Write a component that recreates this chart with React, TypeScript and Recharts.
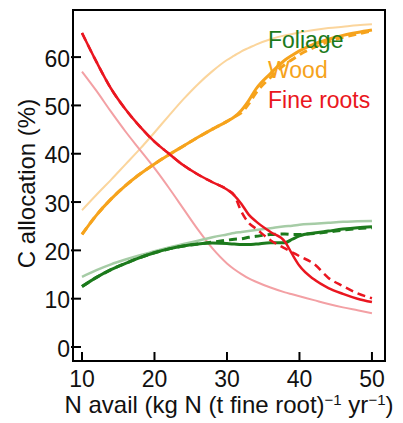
import { LineChart, Line, XAxis, YAxis, ReferenceArea } from "recharts";

// N availability grid (kg N (t fine root)^-1 yr^-1)
const N_AVAIL = [10, 12, 14, 16, 18, 20, 22, 24, 26, 28, 30, 31, 32, 33, 34, 36, 38, 39, 40, 42, 44, 46, 48, 50];

// Faded reference curves (%)
const FOLIAGE_REF = [14.5, 15.9, 17.1, 18.1, 19, 19.8, 20.6, 21.3, 22, 22.7, 23.3, 23.6, 23.8, 24, 24.2, 24.6, 25, 25.1, 25.3, 25.5, 25.7, 25.9, 26, 26.1];
const WOOD_REF = [28.3, 31.5, 34.6, 37.8, 41, 44.4, 47.9, 51.3, 54.4, 57.1, 59.4, 60.3, 61.2, 61.9, 62.6, 63.7, 64.5, 64.8, 65.1, 65.6, 66, 66.3, 66.6, 66.8];
const ROOTS_REF = [57, 53, 48.7, 44.6, 40.8, 37, 32.9, 28.6, 24.3, 20.4, 17.3, 16.1, 15.1, 14.2, 13.5, 12.3, 11.3, 10.9, 10.5, 9.7, 8.9, 8.2, 7.6, 7.0];

// Model runs, solid
const FOLIAGE = [12.5, 14.4, 16, 17.3, 18.5, 19.5, 20.3, 20.9, 21.3, 21.5, 21.4, 21.3, 21.2, 21.2, 21.3, 21.6, 21.6, 22.3, 23, 23.6, 24, 24.4, 24.7, 24.9];
const WOOD = [23.3, 27.3, 30.6, 33.4, 35.8, 37.9, 39.8, 41.6, 43.4, 45.1, 46.7, 47.6, 49, 51, 53.4, 56.6, 59.4, 60.4, 61.3, 62.7, 63.7, 64.5, 65.1, 65.6];
const ROOTS = [65, 59, 53.5, 49.2, 45.6, 42.5, 40, 37.6, 35.7, 34.1, 32.6, 31.4, 29.6, 27.4, 26, 23.8, 21.8, 19.2, 16.8, 14, 12.2, 11, 10, 9.3];

// Model runs, dashed
const FOLIAGE_DASH = [12.5, 14.4, 16, 17.3, 18.5, 19.5, 20.3, 20.9, 21.3, 21.7, 22.1, 22.3, 22.4, 22.7, 22.9, 23.3, 23.4, 23.3, 23.3, 23.5, 23.8, 24.2, 24.5, 24.7];
const WOOD_DASH = [23.3, 27.3, 30.6, 33.4, 35.8, 37.9, 39.8, 41.6, 43.4, 45.1, 46.7, 47.6, 48.5, 50.3, 52.6, 55.8, 58.5, 59.5, 60.5, 62, 63.2, 64.1, 64.8, 65.4];
const ROOTS_DASH = [65, 59, 53.5, 49.2, 45.6, 42.5, 40, 37.6, 35.7, 34.1, 32.6, 31.4, 28, 25.7, 24.5, 22.1, 20.4, 19.6, 18.8, 17.2, 14.3, 12.6, 11.1, 10.1];

const X_TICKS = [10, 20, 30, 40, 50];
const Y_TICKS = [0, 10, 20, 30, 40, 50, 60];
const X_DOMAIN: [number, number] = [8.76, 51.8];
const Y_DOMAIN: [number, number] = [-2.9, 69.75];

const GREEN = "#1c7a1c";
const ORANGE = "#f6a31c";
const RED = "#ea1620";

const data = N_AVAIL.map((n, i) => ({
  n,
  foliageRef: FOLIAGE_REF[i],
  woodRef: WOOD_REF[i],
  rootsRef: ROOTS_REF[i],
  foliage: FOLIAGE[i],
  wood: WOOD[i],
  roots: ROOTS[i],
  foliageDash: FOLIAGE_DASH[i],
  woodDash: WOOD_DASH[i],
  rootsDash: ROOTS_DASH[i],
}));

const SERIES = [
  { key: "woodRef", color: "#fbd59c", width: 2, dash: undefined },
  { key: "rootsRef", color: "#f3a0a4", width: 2, dash: undefined },
  { key: "foliageRef", color: "#a6cca6", width: 2.5, dash: undefined },
  { key: "wood", color: ORANGE, width: 3, dash: undefined },
  { key: "woodDash", color: ORANGE, width: 3, dash: "8 5" },
  { key: "foliage", color: GREEN, width: 3, dash: undefined },
  { key: "foliageDash", color: GREEN, width: 3, dash: "8 5" },
  { key: "roots", color: RED, width: 2.5, dash: undefined },
  { key: "rootsDash", color: RED, width: 2.5, dash: "8 5" },
];

const LEGEND = [
  { label: "Foliage", color: GREEN },
  { label: "Wood", color: ORANGE },
  { label: "Fine roots", color: RED },
];

const FONT = "'Liberation Sans', Arial, sans-serif";

// ticks point into the plot, labels sit outside
function YTick({ x, y, payload }: any) {
  return (
    <g>
      <line x1={x} x2={x + 10} y1={y} y2={y} stroke="#000" strokeWidth={2} />
      <text x={x - 1} y={y} dy="0.42em" textAnchor="end" fontSize={23} fill="#111" fontFamily={FONT}>
        {payload.value}
      </text>
    </g>
  );
}

function XTick({ x, y, payload }: any) {
  return (
    <g>
      <line x1={x} x2={x} y1={y - 10} y2={y - 19} stroke="#000" strokeWidth={2} />
      <text x={x} y={y} dy="0.71em" textAnchor="middle" fontSize={23} fill="#111" fontFamily={FONT}>
        {payload.value}
      </text>
    </g>
  );
}

function XTitle({ viewBox }: any) {
  const cx = viewBox.x + viewBox.width / 2;
  return (
    <text x={cx} y={viewBox.y + 52} textAnchor="middle" fontSize={24} fill="#111" fontFamily={FONT}>
      N avail (kg N (t fine root)
      <tspan dy={-8} fontSize={15}>−1</tspan>
      <tspan dy={8}> yr</tspan>
      <tspan dy={-8} fontSize={15}>−1</tspan>
      <tspan dy={8}>)</tspan>
    </text>
  );
}

function YTitle({ viewBox }: any) {
  const bx = viewBox.x + 35;
  const cy = viewBox.y + viewBox.height / 2 - 2;
  return (
    <text
      x={bx}
      y={cy}
      transform={`rotate(-90, ${bx}, ${cy})`}
      textAnchor="middle"
      fontSize={24}
      fill="#111"
      fontFamily={FONT}
    >
      C allocation (%)
    </text>
  );
}

export default function App() {
  return (
    <div style={{ position: "absolute", left: 0, top: 0, width: 403, height: 423, background: "#fff" }}>
      <LineChart width={403} height={423} data={data} margin={{ top: 10, right: 18, left: 0, bottom: 0 }}>
        <XAxis
          dataKey="n"
          type="number"
          domain={X_DOMAIN}
          ticks={X_TICKS}
          allowDataOverflow
          height={62}
          axisLine={false}
          tickLine={false}
          tickSize={0}
          tickMargin={10}
          tick={<XTick />}
          label={<XTitle />}
        />
        <YAxis
          type="number"
          domain={Y_DOMAIN}
          ticks={Y_TICKS}
          allowDataOverflow
          width={73}
          axisLine={false}
          tickLine={false}
          tickSize={0}
          tickMargin={2}
          tick={<YTick />}
          label={<YTitle />}
        />
        {SERIES.map((s) => (
          <Line
            key={s.key}
            dataKey={s.key}
            type="monotone"
            stroke={s.color}
            strokeWidth={s.width}
            strokeDasharray={s.dash}
            dot={false}
            activeDot={false}
            isAnimationActive={false}
          />
        ))}
        <ReferenceArea
          x1={X_DOMAIN[0]}
          x2={X_DOMAIN[1]}
          y1={Y_DOMAIN[0]}
          y2={Y_DOMAIN[1]}
          fill="none"
          stroke="#000"
          strokeWidth={2}
        />
      </LineChart>
      <div
        style={{
          position: "absolute",
          left: 268,
          top: 25,
          fontFamily: FONT,
          fontSize: 23,
          lineHeight: "30px",
        }}
      >
        {LEGEND.map((l) => (
          <div key={l.label} style={{ color: l.color }}>
            {l.label}
          </div>
        ))}
      </div>
    </div>
  );
}
